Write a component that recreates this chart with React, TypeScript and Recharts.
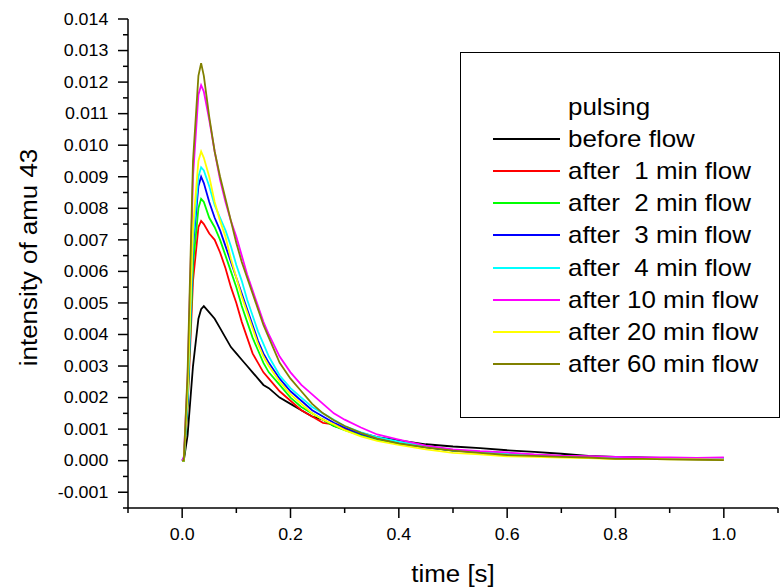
import { LineChart, Line, XAxis, YAxis, Legend, Label } from 'recharts';

const FONT = '"Liberation Sans", Arial, sans-serif';

// time axis of the pulse [s]
const time = [
  0, 0.003, 0.01, 0.02, 0.03, 0.035, 0.04,
  0.05, 0.06, 0.07, 0.08, 0.09, 0.1, 0.11, 0.12, 0.13, 0.14, 0.15, 0.16,
  0.18, 0.2, 0.22, 0.24, 0.26, 0.28, 0.3,
  0.33, 0.36,
  0.4, 0.45, 0.5, 0.55, 0.6, 0.65, 0.7, 0.75, 0.8, 0.85, 0.9, 0.95, 1.0,
];

const beforeFlow = [
  0, 0, 0.0008, 0.003, 0.0045, 0.0048, 0.0049,
  0.0047, 0.0045, 0.0042, 0.0039, 0.0036, 0.0034, 0.0032, 0.003, 0.0028, 0.0026, 0.0024, 0.0023,
  0.002, 0.0018, 0.0016, 0.0014, 0.0013, 0.0011, 0.001,
  0.00088, 0.00075,
  0.00064, 0.00052, 0.00045, 0.0004, 0.00033, 0.00028, 0.00022, 0.00015, 0.00012, 0.0001, 0.00008, 0.00007, 0.00005,
];
const after1 = [
  0, 0, 0.0017, 0.0057, 0.0074, 0.0076, 0.0075,
  0.0072, 0.007, 0.0066, 0.0061, 0.0055, 0.005, 0.0044, 0.0039, 0.0034, 0.0031, 0.0028, 0.0026,
  0.0022, 0.0019, 0.0016, 0.0014, 0.0012, 0.00115, 0.001,
  0.00082, 0.00068,
  0.00056, 0.00042, 0.00033, 0.00027, 0.00022, 0.00018, 0.00014, 0.00011, 0.00009, 0.00008, 0.00007, 0.00006, 0.00005,
];
const after2 = [
  0, 0, 0.0018, 0.0062, 0.008, 0.0083, 0.0082,
  0.0077, 0.0074, 0.007, 0.0065, 0.006, 0.0055, 0.0049, 0.0044, 0.0039, 0.0035, 0.0031, 0.0028,
  0.0024, 0.002, 0.0017, 0.0015, 0.0013, 0.0011, 0.00097,
  0.0008, 0.00066,
  0.00054, 0.00042, 0.00032, 0.00027, 0.0002, 0.00016, 0.00014, 0.0001, 0.00009, 0.00007, 0.00006, 0.00005, 0.00004,
];
const after3 = [
  0, 0.0001, 0.0019, 0.0068, 0.0087, 0.009, 0.0088,
  0.0082, 0.0077, 0.0073, 0.0068, 0.0063, 0.0058, 0.0053, 0.0048, 0.0043, 0.0038, 0.0034, 0.0031,
  0.0026, 0.0022, 0.0019, 0.0016, 0.0014, 0.0012, 0.00105,
  0.00085, 0.0007,
  0.00057, 0.00043, 0.00032, 0.00026, 0.0002, 0.00016, 0.00013, 0.00012, 0.0001, 0.00009, 0.00008, 0.00007, 0.00008,
];
const after4 = [
  0, 0, 0.002, 0.007, 0.009, 0.0093, 0.0092,
  0.0087, 0.0081, 0.0077, 0.0073, 0.0068, 0.0062, 0.0057, 0.0051, 0.0046, 0.0041, 0.0037, 0.0033,
  0.0027, 0.0023, 0.002, 0.0017, 0.0015, 0.0013, 0.0011,
  0.0009, 0.00075,
  0.0006, 0.00045, 0.00033, 0.00027, 0.00022, 0.00017, 0.00014, 0.00012, 0.0001, 0.00008, 0.00007, 0.00007, 0.00006,
];
const after10 = [
  0, 0.0001, 0.0026, 0.009, 0.0116, 0.0119, 0.0117,
  0.0108, 0.0098, 0.0089, 0.0082, 0.0076, 0.0071, 0.0065, 0.0059, 0.0054, 0.0049, 0.0044, 0.004,
  0.0033, 0.0028, 0.0024, 0.0021, 0.0018, 0.0015, 0.0013,
  0.00105, 0.00083,
  0.00067, 0.00048, 0.00036, 0.0003, 0.00026, 0.0002, 0.00016, 0.00014, 0.00012, 0.0001, 0.0001, 0.00009, 0.0001,
];
const after20 = [
  0, 0, 0.0022, 0.0074, 0.0095, 0.0098, 0.0096,
  0.009, 0.0082, 0.0076, 0.0071, 0.0064, 0.0058, 0.0052, 0.0047, 0.0042, 0.0037, 0.0033, 0.003,
  0.0025, 0.0021, 0.0018, 0.0015, 0.0013, 0.00115, 0.00097,
  0.00077, 0.00063,
  0.0005, 0.00036, 0.00025, 0.0002, 0.00014, 0.00012, 0.0001, 0.00008, 0.00005, 0.00006, 0.00004, 0.00004, 0.00003,
];
const after60 = [
  0, 0, 0.0028, 0.0095, 0.0122, 0.0126, 0.0122,
  0.0109, 0.0098, 0.009, 0.0083, 0.0076, 0.0069, 0.0063, 0.0058, 0.0053, 0.0048, 0.0043, 0.0039,
  0.0031, 0.0026, 0.0022, 0.0018, 0.0015, 0.00128, 0.0011,
  0.00088, 0.0007,
  0.00055, 0.00042, 0.00032, 0.00025, 0.00018, 0.00015, 0.00012, 0.0001, 0.00006, 0.00006, 0.00004, 0.00003, 0.00002,
];

const series = [
  { key: 'b0', name: 'before flow', color: '#000000', values: beforeFlow },
  { key: 'a1', name: 'after  1 min flow', color: '#ff0000', values: after1 },
  { key: 'a2', name: 'after  2 min flow', color: '#00ff00', values: after2 },
  { key: 'a3', name: 'after  3 min flow', color: '#0000ff', values: after3 },
  { key: 'a4', name: 'after  4 min flow', color: '#00ffff', values: after4 },
  { key: 'a10', name: 'after 10 min flow', color: '#ff00ff', values: after10 },
  { key: 'a20', name: 'after 20 min flow', color: '#ffff00', values: after20 },
  { key: 'a60', name: 'after 60 min flow', color: '#808000', values: after60 },
];

const xTicks = [-0.1, 0, 0.1, 0.2, 0.3, 0.4, 0.5, 0.6, 0.7, 0.8, 0.9, 1.0, 1.1];
const yTicks = [
  -0.0015, -0.001, -0.0005, 0, 0.0005, 0.001, 0.0015, 0.002, 0.0025, 0.003, 0.0035,
  0.004, 0.0045, 0.005, 0.0055, 0.006, 0.0065, 0.007, 0.0075, 0.008, 0.0085, 0.009,
  0.0095, 0.01, 0.0105, 0.011, 0.0115, 0.012, 0.0125, 0.013, 0.0135, 0.014,
];

const data = time.map((t, i) => {
  const row: Record<string, number> = { t };
  series.forEach(s => { row[s.key] = s.values[i]; });
  return row;
});

const XTick = ({ x, y, payload }: any) => {
  const v = payload.value;
  const major = v >= 0 && v <= 1.0001 && Math.abs(v * 5 - Math.round(v * 5)) < 1e-6;
  return (
    <g>
      <line x1={x} y1={y} x2={x} y2={y + (major ? 10 : 5)} stroke="#000" strokeWidth={1.5} />
      {major && (
        <text transform={`translate(${x},${y + 32}) scale(1.08,1)`} textAnchor="middle"
          fontSize={16.5} fontFamily={FONT} fill="#000">
          {v.toFixed(1)}
        </text>
      )}
    </g>
  );
};

const YTick = ({ x, y, payload }: any) => {
  const v = payload.value;
  const major = Math.abs(v * 1000 - Math.round(v * 1000)) < 1e-6;
  return (
    <g>
      <line x1={x} y1={y} x2={x - (major ? 10 : 5)} y2={y} stroke="#000" strokeWidth={1.5} />
      {major && (
        <text transform={`translate(${x - 19.7},${y + 5.8}) scale(1.08,1)`} textAnchor="end"
          fontSize={16.5} fontFamily={FONT} fill="#000">
          {v.toFixed(3)}
        </text>
      )}
    </g>
  );
};

const XTitle = ({ viewBox }: any) => (
  <text transform={`translate(${viewBox.x + viewBox.width / 2},${viewBox.y + 74}) scale(1.08,1)`}
    textAnchor="middle" fontSize={24} fontFamily={FONT} fill="#000">
    time [s]
  </text>
);

const YTitle = ({ viewBox }: any) => (
  <text transform={`translate(37,${viewBox.y + viewBox.height / 2 - 6}) rotate(-90) scale(1.08,1)`}
    textAnchor="middle" fontSize={24} fontFamily={FONT} fill="#000">
    intensity of amu 43
  </text>
);

const LegendBox = () => (
  <div style={{
    boxSizing: 'border-box', width: 320, height: 366, border: '1px solid #000',
    background: '#fff', fontFamily: FONT, fontSize: 24, paddingTop: 38,
  }}>
    <div style={{ height: 32.1, lineHeight: '32.1px', paddingLeft: 107, whiteSpace: 'pre' }}>
      <span style={{ display: 'inline-block', transform: 'scaleX(1.08)', transformOrigin: 'left' }}>pulsing</span>
    </div>
    {series.map(s => (
      <div key={s.key} style={{ height: 32.1, display: 'flex', alignItems: 'center', whiteSpace: 'pre' }}>
        <div style={{ marginLeft: 32, width: 67, height: 2, background: s.color }} />
        <span style={{ marginLeft: 8, display: 'inline-block', transform: 'scaleX(1.08)', transformOrigin: 'left' }}>
          {s.name}
        </span>
      </div>
    ))}
  </div>
);

export default function App() {
  return (
    <div style={{ position: 'absolute', left: 0, top: 0, width: 780, height: 588, background: '#fff' }}>
      <LineChart width={780} height={588} data={data} margin={{ top: 19, right: 2, bottom: 0, left: 0 }}>
        <XAxis dataKey="t" type="number" domain={[-0.1, 1.1]} ticks={xTicks} interval={0}
          allowDataOverflow height={80} tickSize={0} tickMargin={0} tickLine={false}
          axisLine={{ stroke: '#000', strokeWidth: 1.5 }} tick={<XTick />}>
          <Label content={<XTitle />} />
        </XAxis>
        <YAxis type="number" domain={[-0.0015, 0.014]} ticks={yTicks} interval={0}
          allowDataOverflow width={128} tickSize={0} tickMargin={0} tickLine={false}
          axisLine={{ stroke: '#000', strokeWidth: 1.5 }} tick={<YTick />}>
          <Label content={<YTitle />} />
        </YAxis>
        <Legend layout="vertical" align="center" verticalAlign="middle"
          wrapperStyle={{ position: 'absolute', left: 460, top: 52, width: 320, height: 366 }}
          content={<LegendBox />} />
        {series.map(s => (
          <Line key={s.key} type="linear" dataKey={s.key} name={s.name} stroke={s.color}
            strokeWidth={1.8} dot={false} isAnimationActive={false} />
        ))}
      </LineChart>
    </div>
  );
}
